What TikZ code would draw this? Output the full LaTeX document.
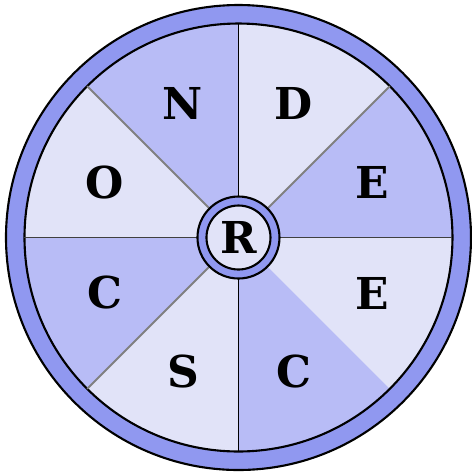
\documentclass[tikz,border=0pt]{standalone}
\usepackage{fontspec}
\setmainfont{DejaVu Serif}
\definecolor{ringblue}{HTML}{9098F0}
\definecolor{darkwedge}{HTML}{B8BCF6}
\definecolor{lightwedge}{HTML}{E1E3F8}
\tikzset{
  letter/.style={font=\fontsize{12.5}{13}\selectfont\bfseries,text=black,inner sep=0pt},
  spoke/.style={line width=0.55pt},
  rim/.style={draw=black,line width=0.6pt}
}

\begin{document}
\begin{tikzpicture}

  \useasboundingbox (-2.385,-2.345) rectangle (2.335,2.375);

  % Outer ring
  \draw[rim,fill=ringblue] (0,0) circle (2.325);

  % Wedges
  \foreach \a/\col in {0/darkwedge,45/lightwedge,90/darkwedge,135/lightwedge,
    180/darkwedge,225/lightwedge,270/darkwedge,315/lightwedge}{
    \fill[\col] (0,0) -- (\a:2.14) arc (\a:\a+45:2.14) -- cycle;
  }
  \draw[rim] (0,0) circle (2.14);

  % Spokes
  \foreach \a/\col in {0/black!75,45/gray,90/black,135/gray,180/black!75,225/gray,270/black}{
    \draw[spoke,draw=\col] (\a:0.41) -- (\a:2.14);
  }

  % Hub
  \draw[rim,fill=ringblue] (0,0) circle (0.41);
  \draw[rim,fill=lightwedge] (0,0) circle (0.32);

  % Letters
  \foreach \i/\a/\ltr in {1/22.5/E,2/67.5/D,3/112.5/N,4/157.5/O,
    5/202.5/C,6/247.5/S,7/292.5/C,8/337.5/E}{
    \node[letter] (ltr\i) at (\a:1.45) {\ltr};
  }
  \node[letter] (hub) at (0,0) {R};

\end{tikzpicture}
\end{document}
